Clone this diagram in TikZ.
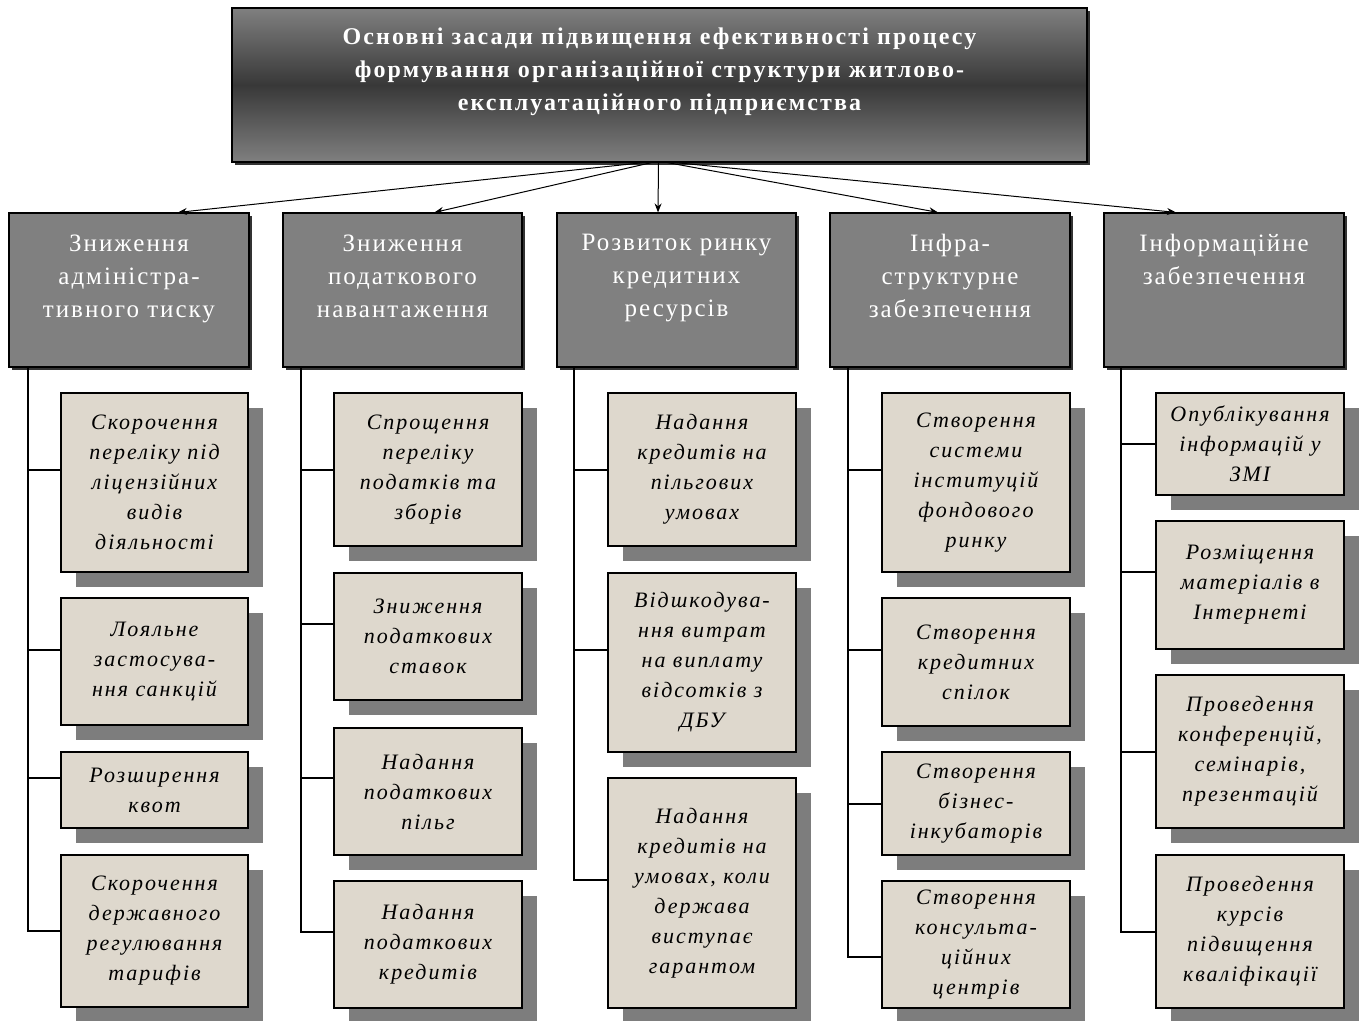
\documentclass[tikz,border=0pt]{standalone}
\usepackage{fontspec}
\setmainfont{Liberation Serif}
\newfontfamily\leaffont[LetterSpace=9]{Liberation Serif}
\newfontfamily\headfont[LetterSpace=8]{Liberation Serif}
\newfontfamily\titlefont[LetterSpace=9]{Liberation Serif}
\usetikzlibrary{shadows,arrows.meta,calc}
\definecolor{paper}{RGB}{222,216,205}
\definecolor{hdrgray}{RGB}{128,128,128}
\definecolor{shadegray}{RGB}{125,125,125}
\tikzset{
  leaf/.style={draw=black, line width=1.2pt, fill=paper, inner sep=0pt,
    align=center, font=\leaffont\itshape\fontsize{22}{30}\selectfont,
    drop shadow={shadow xshift=15pt, shadow yshift=-15pt, fill=shadegray, opacity=1}},
  hdrbox/.style={draw=black, line width=1.2pt, fill=hdrgray, inner sep=0pt,
    drop shadow={shadow xshift=2.5pt, shadow yshift=-2.5pt, fill=black!80, opacity=1}},
  hdrtext/.style={text=white, align=center, anchor=north, inner sep=0pt,
    font=\headfont\fontsize{25}{33}\selectfont},
  topbox/.style={draw=black, line width=1.2pt, inner sep=0pt,
    top color=black!50, bottom color=black!50, middle color=black!78,
    drop shadow={shadow xshift=2.5pt, shadow yshift=-2.5pt, fill=black!80, opacity=1}},
  arr/.style={line width=1pt, -{Stealth[length=9pt,width=7pt]}},
  tree/.style={line width=2pt},
}
\newcommand\mkleaf[6]{%
  \node[leaf, minimum width={(#4-#2)*1pt}, minimum height={(#5-#3)*1pt}]
    (#1) at ({(#2+#4)/2},{(#3+#5)/2}) {#6};}
\newcommand\mkhdr[6]{%
  \node[hdrbox, minimum width={(#4-#2)*1pt}, minimum height={(#5-#3)*1pt}]
    (#1) at ({(#2+#4)/2},{(#3+#5)/2}) {};
  \node[hdrtext] (#1t) at ([yshift=-22pt]#1.north) {#6};}
\begin{document}
\begin{tikzpicture}[x=1pt,y=-1pt]
\useasboundingbox (0,0) rectangle (1364,1020);

% top box
\node[topbox, minimum width=855pt, minimum height=154pt] (top) at (659.5,85) {};
\node[text=white, align=center, anchor=north, inner sep=0pt,
  font=\titlefont\bfseries\fontsize{24}{33}\selectfont] (toptext) at ([yshift=-20pt]top.north)
  {Основні засади підвищення ефективності процесу\\
   формування організаційної структури житлово-\\
   експлуатаційного підприємства};

% headers
\mkhdr{h1}{9}{213}{249}{367}{Зниження\\адміністра-\\тивного тиску}
\mkhdr{h2}{283}{213}{522}{367}{Зниження\\податкового\\навантаження}
\mkhdr{h3}{557}{213}{796}{367}{Розвиток ринку\\кредитних\\ресурсів}
\mkhdr{h4}{830}{213}{1070}{367}{Інфра-\\структурне\\забезпечення}
\mkhdr{h5}{1104}{213}{1344}{367}{Інформаційне\\забезпечення}

% arrows
\draw[arr] ([xshift=-16pt]top.south) -- ([xshift=49pt]h1.north);
\draw[arr] ([xshift=-8pt]top.south) -- ([xshift=32pt]h2.north);
\draw[arr] ([xshift=-1pt]top.south) -- ([xshift=-18.5pt]h3.north);
\draw[arr] ([xshift=8pt]top.south) -- ([xshift=-12pt]h4.north);
\draw[arr] ([xshift=16pt]top.south) -- ([xshift=-48pt]h5.north);

% tree tops
\coordinate (t1) at ([xshift=20pt]h1.south west);
\coordinate (t2) at ([xshift=19pt]h2.south west);
\coordinate (t3) at ([xshift=18pt]h3.south west);
\coordinate (t4) at ([xshift=19pt]h4.south west);
\coordinate (t5) at ([xshift=18pt]h5.south west);

% column 1
\mkleaf{l1a}{61}{393}{248}{572}{Скорочення\\переліку під\\ліцензійних\\видів\\діяльності}
\mkleaf{l1b}{61}{598}{248}{725}{Лояльне\\застосува-\\ння санкцій}
\mkleaf{l1c}{61}{752}{248}{828}{Розширення\\квот}
\mkleaf{l1d}{61}{855}{248}{1007}{Скорочення\\державного\\регулювання\\тарифів}
% column 2
\mkleaf{l2a}{334}{393}{522}{546}{Спрощення\\переліку\\податків та\\зборів}
\mkleaf{l2b}{334}{573}{522}{700}{Зниження\\податкових\\ставок}
\mkleaf{l2c}{334}{728}{522}{855}{Надання\\податкових\\пільг}
\mkleaf{l2d}{334}{881}{522}{1008}{Надання\\податкових\\кредитів}
% column 3
\mkleaf{l3a}{608}{393}{796}{546}{Надання\\кредитів на\\пільгових\\умовах}
\mkleaf{l3b}{608}{573}{796}{752}{Відшкодува-\\ння витрат\\на виплату\\відсотків з\\ДБУ}
\mkleaf{l3c}{608}{778}{796}{1008}{Надання\\кредитів на\\умовах, коли\\держава\\виступає\\гарантом}
% column 4
\mkleaf{l4a}{882}{393}{1070}{572}{Створення\\системи\\інституцій\\фондового\\ринку}
\mkleaf{l4b}{882}{598}{1070}{726}{Створення\\кредитних\\спілок}
\mkleaf{l4c}{882}{752}{1070}{855}{Створення\\бізнес-\\інкубаторів}
\mkleaf{l4d}{882}{881}{1070}{1008}{Створення\\консульта-\\ційних\\центрів}
% column 5
\mkleaf{l5a}{1156}{393}{1344}{495}{Опублікування\\інформацій у\\ЗМІ}
\mkleaf{l5b}{1156}{521}{1344}{649}{Розміщення\\матеріалів в\\Інтернеті}
\mkleaf{l5c}{1156}{675}{1344}{828}{Проведення\\конференцій,\\семінарів,\\презентацій}
\mkleaf{l5d}{1156}{855}{1344}{1008}{Проведення\\курсів\\підвищення\\кваліфікації}

% connectors
\draw[tree] ([yshift=12.5pt]l1a.west) -| (t1);
\draw[tree] ([yshift=11.5pt]l1b.west) -| (t1);
\draw[tree] ([yshift=12pt]l1c.west) -| (t1);
\draw[tree] (l1d.west) -| (t1);
\draw[tree] (l2a.west) -| (t2);
\draw[tree] ([yshift=12.5pt]l2b.west) -| (t2);
\draw[tree] ([yshift=13.5pt]l2c.west) -| (t2);
\draw[tree] ([yshift=12.5pt]l2d.west) -| (t2);
\draw[tree] (l3a.west) -| (t3);
\draw[tree] ([yshift=12.5pt]l3b.west) -| (t3);
\draw[tree] ([yshift=13pt]l3c.west) -| (t3);
\draw[tree] ([yshift=12.5pt]l4a.west) -| (t4);
\draw[tree] ([yshift=12pt]l4b.west) -| (t4);
\draw[tree] (l4c.west) -| (t4);
\draw[tree] ([yshift=-12.5pt]l4d.west) -| (t4);
\draw[tree] (l5a.west) -| (t5);
\draw[tree] ([yshift=13pt]l5b.west) -| (t5);
\draw[tree] (l5c.west) -| (t5);
\draw[tree] (l5d.west) -| (t5);
\end{tikzpicture}
\end{document}
